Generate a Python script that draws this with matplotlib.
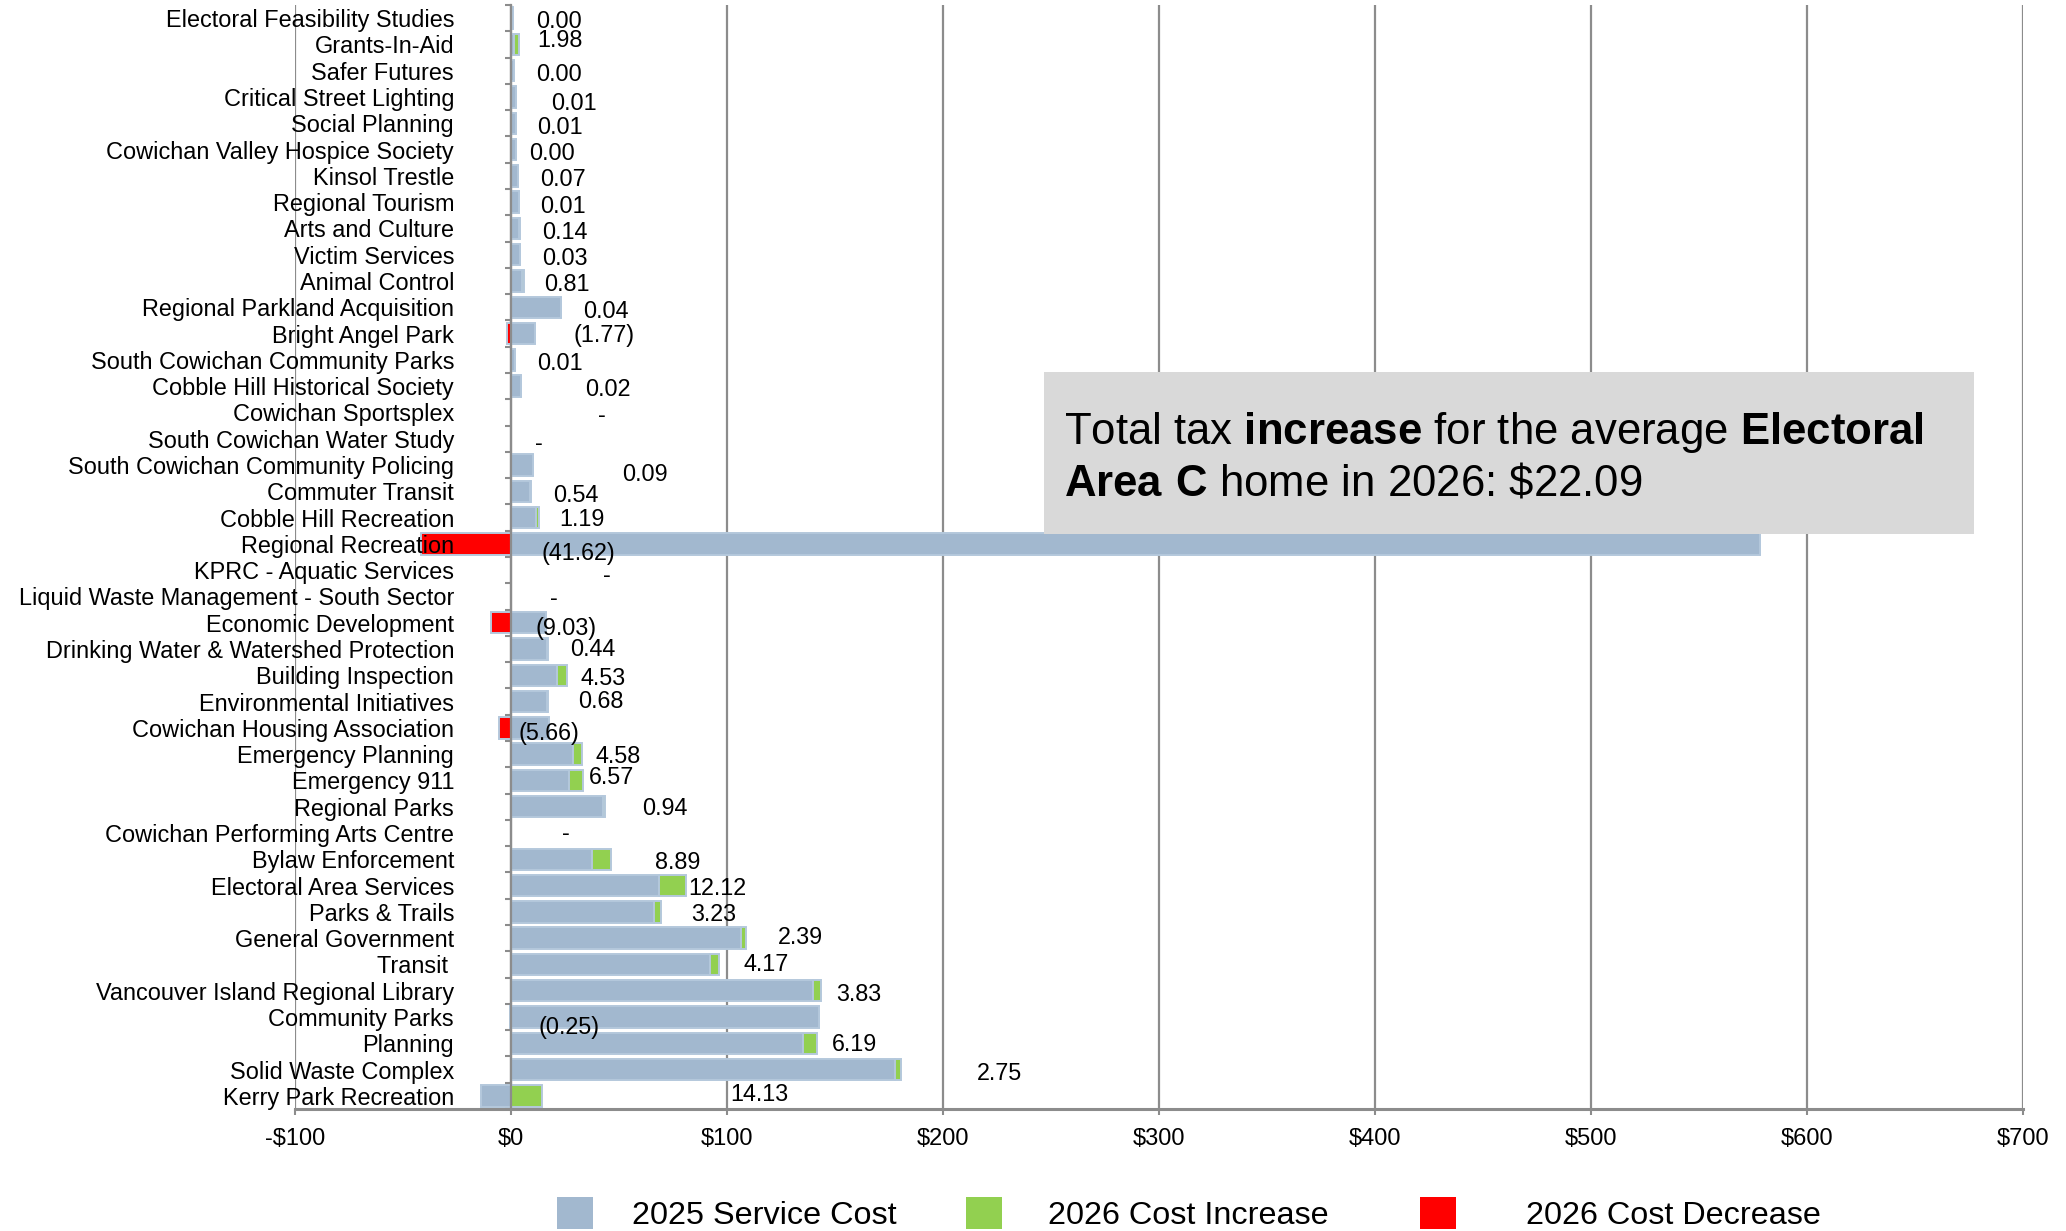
import numpy as np
import matplotlib
matplotlib.use('Agg')
import matplotlib.pyplot as plt
from matplotlib.patches import Rectangle, Patch

plt.rcParams['font.family'] = ['Liberation Sans', 'DejaVu Sans']
plt.rcParams['mathtext.fontset'] = 'custom'
plt.rcParams['mathtext.rm'] = 'Liberation Sans'
plt.rcParams['mathtext.bf'] = 'Liberation Sans:bold'

# services, top to bottom
services = [
    'Electoral Feasibility Studies', 'Grants-In-Aid', 'Safer Futures',
    'Critical Street Lighting', 'Social Planning', 'Cowichan Valley Hospice Society',
    'Kinsol Trestle', 'Regional Tourism', 'Arts and Culture', 'Victim Services',
    'Animal Control', 'Regional Parkland Acquisition', 'Bright Angel Park',
    'South Cowichan Community Parks', 'Cobble Hill Historical Society',
    'Cowichan Sportsplex', 'South Cowichan Water Study',
    'South Cowichan Community Policing', 'Commuter Transit', 'Cobble Hill Recreation',
    'Regional Recreation', 'KPRC - Aquatic Services',
    'Liquid Waste Management - South Sector', 'Economic Development',
    'Drinking Water & Watershed Protection', 'Building Inspection',
    'Environmental Initiatives', 'Cowichan Housing Association',
    'Emergency Planning', 'Emergency 911', 'Regional Parks',
    'Cowichan Performing Arts Centre', 'Bylaw Enforcement', 'Electoral Area Services',
    'Parks & Trails', 'General Government', 'Transit ',
    'Vancouver Island Regional Library', 'Community Parks', 'Planning',
    'Solid Waste Complex', 'Kerry Park Recreation',
]

# 2025 service cost ($)
cost_2025 = [
    1.0, 1.6, 1.2, 2.2, 2.2, 2.2, 3.3, 3.5, 3.9, 4.0,
    5.1, 23.0, 11.3, 1.7, 4.5, 0.0, 0.0, 10.1, 8.9, 11.8,
    578.3, 0.0, 0.0, 16.0, 16.8, 21.5, 16.6, 17.6, 28.5, 26.7,
    42.6, 0.0, 37.4, 68.7, 66.1, 106.6, 92.3, 139.6, 142.8, 135.4,
    177.9, -14.0,
]

# 2026 change ($); None = no change shown ("-")
change_2026 = [
    0.00, 1.98, 0.00, 0.01, 0.01, 0.00, 0.07, 0.01, 0.14, 0.03,
    0.81, 0.04, -1.77, 0.01, 0.02, None, None, 0.09, 0.54, 1.19,
    -41.62, None, None, -9.03, 0.44, 4.53, 0.68, -5.66, 4.58, 6.57,
    0.94, None, 8.89, 12.12, 3.23, 2.39, 4.17, 3.83, -0.25, 6.19,
    2.75, 14.13,
]

# where each data label sits (x in $, y shift in px)
label_x = [
    22.4, 22.7, 22.4, 29.3, 22.7, 19.0, 24.2, 24.2, 24.7, 25.0,
    26.0, 44.0, 43.0, 22.7, 45.0, 42.0, 13.0, 62.0, 30.0, 33.0,
    31.0, 44.5, 19.7, 25.5, 38.0, 42.4, 41.5, 17.6, 49.6, 46.6,
    71.3, 25.3, 77.2, 95.6, 94.0, 134.0, 118.0, 161.0, 27.0, 159.0,
    226.0, 115.0,
]
label_dy = [
    3, -4, 4, 7, 4, 4, 4, 4, 4, 4,
    4, 4, 2, 4, 3, 3, 5, 10, 4, 2,
    10, 5, 2, 6, 1, 3, 0, 6, 2, -3,
    2, 1, 3, 3, 3, -1, 0, 4, 11, 1,
    4, -1,
]

blue = '#A2B8CF'
green = '#92D050'
red = '#FF0000'
edge = '#B4C8DC'
grey = '#8C8C8C'

n = len(services)
y = np.arange(n)
cost = np.array(cost_2025, dtype=float)
chg = np.array([0.0 if c is None else c for c in change_2026])
inc = np.where(chg > 0, chg, 0.0)
dec = np.where(chg < 0, chg, 0.0)

# stack like Excel: positives grow right from 0, negatives grow left from 0
pos_base = np.where(cost > 0, cost, 0.0)
neg_base = np.where(cost < 0, cost, 0.0)

fig = plt.figure(figsize=(20.66, 12.31), dpi=100)
ax = fig.add_axes([295 / 2066, 122 / 1231, 1728 / 2066, 1104 / 1231])

h = 0.82
ax.barh(y, cost, height=h, color=blue, edgecolor=edge, linewidth=1.4, zorder=1)
ax.barh(y, inc, left=pos_base, height=h, color=green, edgecolor=edge, linewidth=1.4, zorder=1)
ax.barh(y, dec, left=neg_base, height=h, color=red, edgecolor=edge, linewidth=1.4, zorder=1)

for i in range(n):
    c = change_2026[i]
    if c is None:
        s = '-'
    elif c < 0:
        s = '(%.2f)' % abs(c)
    else:
        s = '%.2f' % c
    ax.text(label_x[i], y[i] + label_dy[i] / 26.3, s, ha='center', va='center',
            fontsize=16.8, color='black', zorder=4)

ax.set_xlim(-100, 700)
ax.set_ylim(n - 0.5, -0.5)

ticks = np.arange(-100, 701, 100)
ax.set_xticks(ticks)
ax.set_xticklabels([('-$%d' % -t) if t < 0 else ('$%d' % t) for t in ticks])
ax.tick_params(axis='x', length=4.5, width=1.5, color=grey, pad=9, labelsize=17)
ax.grid(axis='x', color=grey, linewidth=1.6)
ax.set_axisbelow(True)

ax.set_yticks(y)
ax.set_yticklabels(services)
ax.set_yticks(np.arange(-0.5, n, 1.0), minor=True)
ax.tick_params(axis='y', which='major', length=0, pad=41, labelsize=16.9)
ax.tick_params(axis='y', which='minor', length=4.5, width=1.5, color=grey, direction='out')
ax.yaxis.set_zorder(2.5)

for side in ['top', 'right']:
    ax.spines[side].set_visible(False)
ax.spines['left'].set_position(('data', 0))
ax.spines['left'].set_color(grey)
ax.spines['left'].set_linewidth(1.6)
ax.spines['bottom'].set_color(grey)
ax.spines['bottom'].set_linewidth(2.2)

# call-out box
fig.add_artist(Rectangle((1044 / 2066, 1 - 534 / 1231), 930 / 2066, 162 / 1231,
                         transform=fig.transFigure, facecolor='#D9D9D9',
                         edgecolor='none', zorder=5))
fig.text(1064 / 2066, 1 - 444 / 1231,
         r'Total tax $\bf{increase}$ for the average $\bf{Electoral}$',
         fontsize=31.5, va='baseline', ha='left', zorder=6)
fig.text(1064 / 2066, 1 - 495 / 1231,
         r'$\bf{Area\ C}$ home in 2026: \$22.09',
         fontsize=31.5, va='baseline', ha='left', zorder=6)

# legend entries, spaced as in the original
legend_items = [
    (blue, '2025 Service Cost', 557, 1.23),
    (green, '2026 Cost Increase', 966, 1.42),
    (red, '2026 Cost Decrease', 1420, 2.19),
]
for col, lab, x0, pad in legend_items:
    fig.legend([Patch(facecolor=col)], [lab], loc='center left',
               bbox_to_anchor=(x0 / 2066, 17 / 1231), frameon=False,
               fontsize=23.3, handlelength=1.1, handleheight=1.15,
               handletextpad=pad, borderpad=0, borderaxespad=0)

fig.savefig('out.png', dpi=100)
